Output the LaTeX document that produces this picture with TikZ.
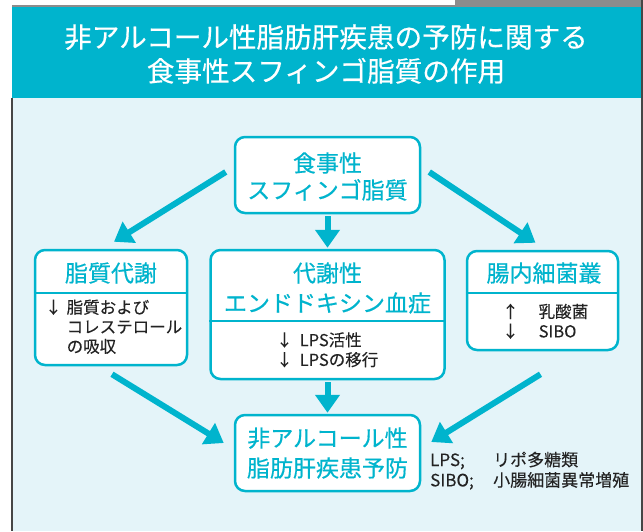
\documentclass[tikz,border=0pt]{standalone}
\usepackage{fontspec}
\setmainfont{Noto Sans CJK JP}[FakeBold=0.15]
\newfontfamily\medfont{Noto Sans CJK JP}[FakeBold=0.45]
\usetikzlibrary{arrows.meta,calc}
\definecolor{cy}{RGB}{0,180,205}
\definecolor{bg}{RGB}{228,244,249}
\definecolor{tx}{RGB}{35,35,35}
\definecolor{gr}{RGB}{140,140,140}
\definecolor{dk}{RGB}{70,70,70}
\begin{document}
\begin{tikzpicture}[x=1pt,y=-1pt,
  box/.style={draw=cy, line width=2.5pt, fill=white, rounded corners=10pt, inner sep=0pt},
  ttl/.style={text=cy, font=\medfont\fontsize{23}{30}\selectfont, align=center, inner sep=0pt},
  bdy/.style={text=tx, font=\fontsize{16.5}{19.5}\selectfont, align=left, inner sep=0pt},
  divl/.style={draw=cy, line width=2.5pt},
  arr/.style={draw=cy, line width=6pt, -{Triangle[length=18pt,width=24pt]}}]
\useasboundingbox (0,0) rectangle (643,531);
% frame
\fill[white] (0,0) rectangle (643,531);
\fill[gr] (455,0) rectangle (643,7);
\fill[gr] (12,5) rectangle (643,7);
\fill[cy] (12,7) rectangle (641,98);
\fill[bg] (12,98) rectangle (641,531);
\fill[dk] (11,98) rectangle (13,531);
\fill[dk] (641,0) rectangle (643,531);
% header
\node[text=white, font=\medfont\fontsize{27.6}{34}\selectfont, align=center, inner sep=0pt] (H) at (326,54)
  {非アルコール性脂肪肝疾患の予防に関する\\食事性スフィンゴ脂質の作用};
% boxes
\node[box, minimum width=185pt, minimum height=76pt] (T) at (327.5,175) {};
\node[box, minimum width=152pt, minimum height=115pt] (L) at (111,307.5) {};
\node[box, minimum width=234pt, minimum height=129pt] (M) at (327.5,314.5) {};
\node[box, minimum width=151pt, minimum height=99pt] (R) at (542.5,300.5) {};
\node[box, minimum width=185pt, minimum height=76pt] (B) at (327.5,453) {};
% dividers
\draw[divl] (L.west |- 0,293) -- (L.east |- 0,293);
\draw[divl] (M.west |- 0,321) -- (M.east |- 0,321);
\draw[divl] (R.west |- 0,293) -- (R.east |- 0,293);
% titles
\node[ttl, font=\medfont\fontsize{23}{27}\selectfont] (Tt) at (327.5,176.5) {食事性\\スフィンゴ脂質};
\node[ttl] (Lt) at (111,273) {脂質代謝};
\node[ttl] (Mt) at (327.5,288) {代謝性\\エンドドキシン血症};
\node[ttl] (Rt) at (544,273) {腸内細菌叢};
\node[ttl] (Bt) at (327.5,453) {非アルコール性\\脂肪肝疾患予防};
% bodies
\node[bdy, anchor=west] (Lb) at (45,329)
  {\begin{tabular}{@{}l@{\hspace{5pt}}l@{}}↓&脂質および\\&コレステロール\\&の吸収\end{tabular}};
\node[bdy, anchor=west] (Mb) at (276,352)
  {\begin{tabular}{@{}l@{\hspace{7pt}}l@{}}↓&LPS活性\\↓&LPSの移行\end{tabular}};
\node[bdy, anchor=west] (Rb) at (502,323.5)
  {\begin{tabular}{@{}l@{\hspace{20pt}}l@{}}↑&乳酸菌\\↓&SIBO\end{tabular}};
\node[bdy, anchor=west, font=\fontsize{17}{20}\selectfont] (Lg) at (430,472)
  {\begin{tabular}{@{}l@{}l@{}}\makebox[63pt][l]{LPS;}&リポ多糖類\\SIBO;&小腸細菌異常増殖\end{tabular}};
% arrows
\draw[arr] ($(T.west)+(-8,-3)$) -- ($(L.north)+(3,-7)$);
\draw[arr] ($(T.east)+(8,-3)$) -- ($(R.north)+(-7,-7)$);
\draw[arr] ($(T.south)+(0,2)$) -- ($(M.north)+(0,-1)$);
\draw[arr] ($(M.south)+(0,2)$) -- ($(B.north)+(0,-1)$);
\draw[arr] ($(L.south)+(1,8)$) -- ($(B.west)+(-10,-10)$);
\draw[arr] ($(R.south)+(-2,23)$) -- ($(B.east)+(10,-11)$);
\end{tikzpicture}
\end{document}
